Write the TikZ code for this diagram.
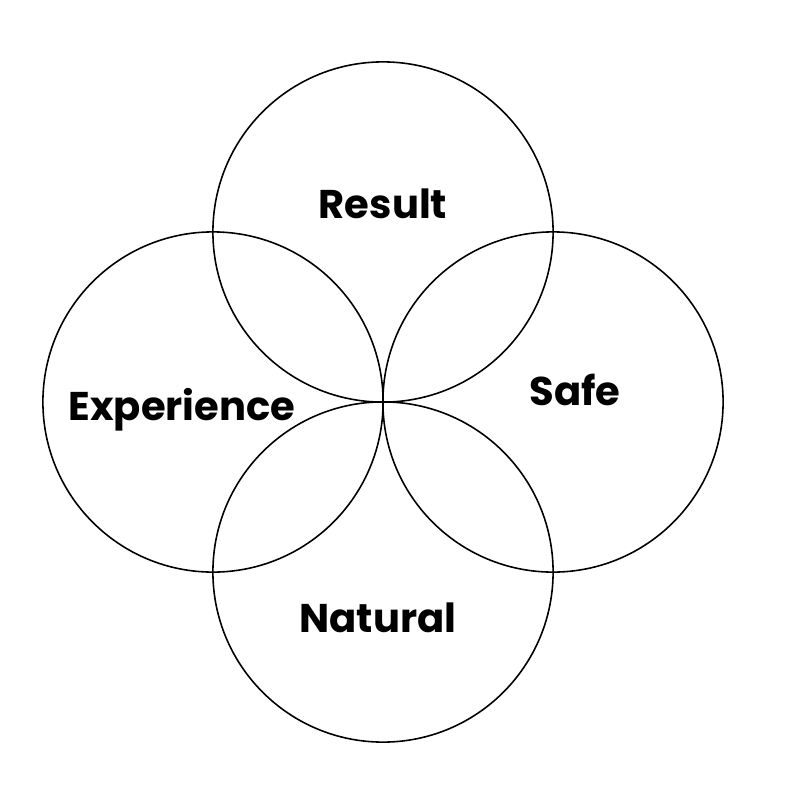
\documentclass[tikz,border=0pt]{standalone}
\usepackage{fontspec}
\setmainfont{Poppins}
\usepackage{tikz}
\usetikzlibrary{positioning}

\begin{document}
\begin{tikzpicture}[x=0.01cm,y=-0.01cm] % 1 unit = 1 px of the 800 px frame
\useasboundingbox (0,0) rectangle (800,800);
\tikzset{ring/.style={draw,line width=0.45pt,circle,minimum size=3.4cm,inner sep=0pt},
  word/.style={font=\bfseries\fontsize{11.4}{13}\selectfont}}

\node (top)    [ring] at (383,232) {};
\node (left)   [ring] at (213,402) {};
\node (right)  [ring] at (553,402) {};
\node (bottom) [ring] at (383,572) {};

    \node (result) [word] at (383,204) {Result};
    \node (exper)  [word] at (182,410) {Experience};
    \node (safe)   [word] at (575,390) {Safe};
    \node (nat)    [word] at (378,618) {Natural};

\end{tikzpicture}
\end{document}
